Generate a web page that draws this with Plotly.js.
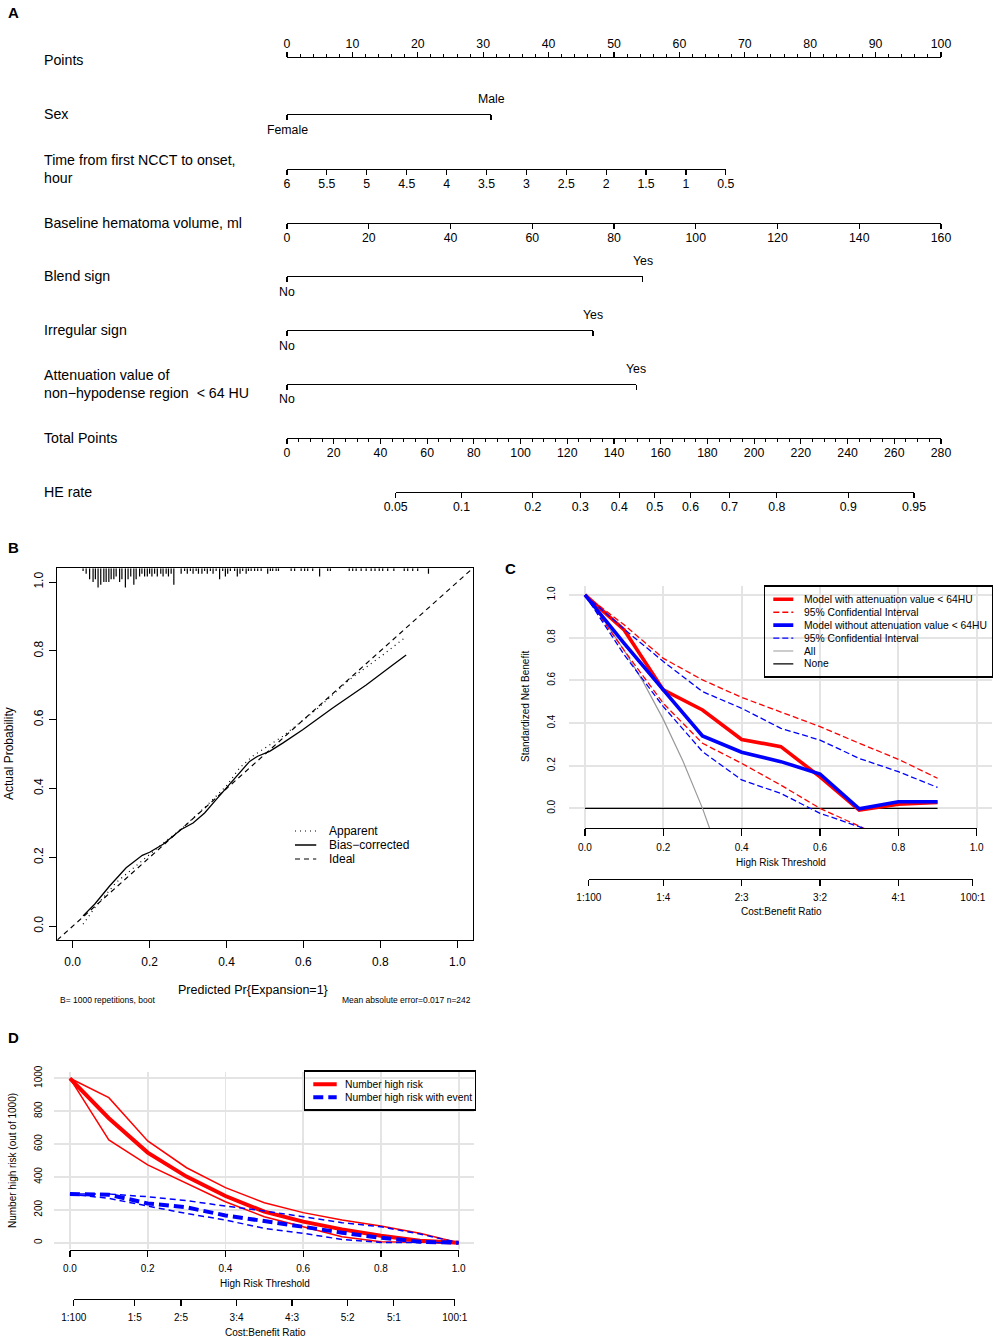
<!DOCTYPE html>
<html><head><meta charset="utf-8">
<script src="https://cdn.plot.ly/plotly-3.0.1.min.js"></script>
<style>html,body{margin:0;padding:0;background:#fff}</style>
</head><body><div id="chart" style="width:996px;height:1339px"></div>
<script>
// ================= DATA =================
// ---- Panel A: nomogram ----
const pointsMax = 100;
const sexLabels = ['Female', 'Male'];
const sexPoints = [0, 31.2];
const timeTicks = [6, 5.5, 5, 4.5, 4, 3.5, 3, 2.5, 2, 1.5, 1, 0.5];
const timeTickText = ['6', '5.5', '5', '4.5', '4', '3.5', '3', '2.5', '2', '1.5', '1', '0.5'];
const timePointsAtShortest = 67.1;          // points for 0.5 h
const volumeTicks = [0, 20, 40, 60, 80, 100, 120, 140, 160];
const volumePointsAtMax = 100;              // points for 160 ml
const blendLabels = ['No', 'Yes'];
const blendPoints = [0, 54.4];
const irregularLabels = ['No', 'Yes'];
const irregularPoints = [0, 46.8];
const attenLabels = ['No', 'Yes'];
const attenPoints = [0, 53.4];
const totalPointsMax = 280;
const heRateTicks = [0.05, 0.1, 0.2, 0.3, 0.4, 0.5, 0.6, 0.7, 0.8, 0.9, 0.95];
const heTotalAtHalf = 157.5;     // total points giving HE rate 0.5
const heTotalPerLogit = 37.68;   // total points per unit log-odds
const rowLabels = ['Points', 'Sex', 'Time from first NCCT to onset,<br>hour', 'Baseline hematoma volume, ml',
  'Blend sign', 'Irregular sign', 'Attenuation value of<br>non\u2212hypodense region  < 64 HU', 'Total Points', 'HE rate'];

// ---- Panel B: calibration ----
const rugProb = [0.027,0.035,0.044,0.053,0.059,0.066,0.073,0.081,0.087,0.094,0.100,0.107,0.113,0.122,0.128,0.137,0.144,0.151,0.159,0.165,
  0.174,0.180,0.187,0.194,0.200,0.206,0.213,0.220,0.229,0.235,0.243,0.249,0.256,0.263,0.282,0.291,0.298,0.306,0.313,0.321,
  0.327,0.336,0.343,0.350,0.358,0.365,0.373,0.382,0.390,0.397,0.403,0.410,0.421,0.428,0.435,0.442,0.451,0.457,0.464,0.473,
  0.481,0.490,0.507,0.514,0.520,0.529,0.535,0.568,0.577,0.594,0.603,0.611,0.624,0.642,0.663,0.670,0.719,0.728,0.737,0.750,
  0.763,0.776,0.786,0.797,0.806,0.819,0.835,0.862,0.871,0.884,0.897,0.925];
const rugCount = [1,2,4,5,4,7,6,5,5,5,4,4,3,5,4,7,4,3,6,4,
  3,2,3,3,2,3,2,3,2,3,2,3,2,6,2,1,2,1,2,1,
  2,2,1,2,1,2,1,4,1,3,2,1,1,3,2,1,2,1,1,1,
  1,1,2,1,1,1,1,1,1,1,1,1,1,3,1,1,1,1,1,1,
  1,1,1,1,1,1,1,1,1,1,1,2];
const apparentX = [0.027,0.061,0.113,0.174,0.226,0.286,0.347,0.399,0.434,0.468,0.546,0.633,0.719,0.806,0.862];
const apparentY = [0.006,0.059,0.127,0.185,0.233,0.286,0.349,0.407,0.460,0.494,0.552,0.629,0.716,0.788,0.837];
const biasX = [0.027,0.057,0.096,0.139,0.181,0.200,0.235,0.282,0.313,0.343,0.373,0.399,0.425,0.460,0.481,0.512,0.546,0.598,0.676,0.763,0.832,0.867];
const biasY = [0.030,0.064,0.117,0.170,0.206,0.215,0.238,0.281,0.300,0.329,0.368,0.402,0.436,0.479,0.494,0.508,0.532,0.571,0.634,0.701,0.759,0.788];
const calibTicks = [0, 0.2, 0.4, 0.6, 0.8, 1.0];
const calibTickText = ['0.0', '0.2', '0.4', '0.6', '0.8', '1.0'];

// ---- Panel C: decision curve ----
const dcaThr = [0, 0.1, 0.2, 0.3, 0.4, 0.5, 0.6, 0.7, 0.8, 0.9];
const withModel = [1.0, 0.836, 0.555, 0.461, 0.323, 0.289, 0.148, -0.008, 0.020, 0.028];
const withUpper = [1.0, 0.86, 0.703, 0.602, 0.520, 0.453, 0.383, 0.305, 0.230, 0.141];
const withLower = [1.0, 0.74, 0.492, 0.305, 0.211, 0.109, 0.0, -0.083, -0.17, -0.25];
const withoutModel = [1.0, 0.773, 0.555, 0.339, 0.263, 0.219, 0.161, -0.002, 0.031, 0.031];
const withoutUpper = [1.0, 0.84, 0.688, 0.547, 0.469, 0.375, 0.320, 0.234, 0.172, 0.098];
const withoutLower = [1.0, 0.72, 0.477, 0.266, 0.133, 0.070, -0.023, -0.086, -0.16, -0.24];
const allThr = [0, 0.05, 0.1, 0.15, 0.2, 0.25, 0.3, 0.35];
const allNB = [1.0, 0.877, 0.741, 0.588, 0.417, 0.222, 0.0, -0.256];
const noneNB = [0, 0, 0, 0, 0, 0, 0, 0, 0, 0];
const cLegendNames = ['Model with attenuation value < 64HU', '95% Confidential Interval',
  'Model without attenuation value < 64HU', '95% Confidential Interval', 'All', 'None'];
const thrTicks = [0, 0.2, 0.4, 0.6, 0.8, 1.0];
const thrTickText = ['0.0', '0.2', '0.4', '0.6', '0.8', '1.0'];
const cCostThr = [0.0099, 0.2, 0.4, 0.6, 0.8, 0.9901];
const cCostLabels = ['1:100', '1:4', '2:3', '3:2', '4:1', '100:1'];

// ---- Panel D: clinical impact ----
const ciThr = [0, 0.1, 0.2, 0.3, 0.4, 0.5, 0.6, 0.7, 0.8, 0.9, 1.0];
const nHighRisk = [1000, 757, 548, 402, 284, 189, 128, 81, 43, 12, 0];
const nHighRiskUpper = [1000, 882, 619, 456, 335, 243, 183, 138, 101, 57, 0];
const nHighRiskLower = [1000, 625, 473, 361, 249, 158, 97, 37, 6, 2, 0];
const nEvent = [296, 292, 239, 215, 166, 134, 97, 61, 30, 6, 0];
const nEventUpper = [296, 296, 280, 256, 223, 193, 158, 122, 97, 53, 0];
const nEventLower = [296, 270, 223, 178, 138, 87, 57, 20, 2, 0, 0];
const dLegendNames = ['Number high risk', 'Number high risk with event'];
const dYTicks = [0, 200, 400, 600, 800, 1000];
const dCostThr = [0.0099, 0.1667, 0.2857, 0.4286, 0.5714, 0.7143, 0.8333, 0.9901];
const dCostLabels = ['1:100', '1:5', '2:5', '3:4', '4:3', '5:2', '5:1', '100:1'];

// ================= LAYOUT HELPERS =================
const W = 996, H = 1339;
const fx = p => p / W, fy = p => 1 - p / H;
const FONT = '"Liberation Sans", Arial, Helvetica, sans-serif';
const data = [];
const layout = {
  width: W, height: H, autosize: false, margin: {l: 0, r: 0, t: 0, b: 0},
  paper_bgcolor: '#fff', plot_bgcolor: 'rgba(0,0,0,0)', showlegend: false,
  font: {family: FONT, color: '#000', size: 12}, annotations: []
};
function ann(text, xpx, ypx, o) {
  o = o || {};
  const font = Object.assign({family: FONT, size: 12, color: '#000'}, o.font || {});
  layout.annotations.push(Object.assign({text: text, x: fx(xpx), y: fy(ypx), xref: 'paper', yref: 'paper',
    showarrow: false, xanchor: 'center', yanchor: 'middle'}, o, {font: font}));
}
const pxOf = (dom, rng, v) => dom[0] + (v - rng[0]) / (rng[1] - rng[0]) * (dom[1] - dom[0]);

let axN = 6;
function addAxis(domPx, range, yPx, opts) {
  axN++;
  const n = axN, side = opts.side || 'bottom';
  const yf = fy(yPx), e = 0.002;
  layout['xaxis' + n] = Object.assign({
    domain: [fx(domPx[0]), fx(domPx[1])], range: range, anchor: 'y' + n, side: side,
    showgrid: false, zeroline: false, showline: true, linecolor: '#000', linewidth: 1.2,
    ticks: 'outside', ticklen: 5, tickwidth: 1.2, tickcolor: '#000', ticklabelstandoff: -2,
    tickfont: {family: FONT, size: 12.3, color: '#000'}, fixedrange: true
  }, opts);
  layout['yaxis' + n] = {domain: side === 'top' ? [yf - e, yf] : [yf, yf + e], range: [0, 1],
    visible: false, anchor: 'x' + n, fixedrange: true};
  data.push({type: 'scatter', x: [range[0]], y: [0.5], xaxis: 'x' + n, yaxis: 'y' + n,
    mode: 'none', hoverinfo: 'skip', showlegend: false});
  return n;
}

// ================= PANEL A =================
const nomoLeft = 287, nomoRight = 941;
const ptPx = (nomoRight - nomoLeft) / pointsMax;
const rowY = [58, 114, 169, 223, 276, 330, 384, 438, 492];
rowLabels.forEach((t, i) => ann(t, 42, rowY[i] + (i === 0 ? 2 : 0), {xanchor: 'left', align: 'left', font: {size: 14.2}}));

// Points
addAxis([nomoLeft, nomoRight], [0, pointsMax], rowY[0], {side: 'top', tickmode: 'linear', tick0: 0, dtick: 10,
  ticklabelstandoff: -1,
  minor: {tickmode: 'linear', tick0: 0, dtick: 2, ticks: 'outside', ticklen: 2.5, tickwidth: 1, tickcolor: '#000'}});

function binaryRow(labels, pts, yPx) {
  const n = addAxis([nomoLeft, nomoLeft + pts[1] * ptPx], [pts[0], pts[1]], yPx,
    {tickmode: 'array', tickvals: pts, showticklabels: false});
  layout.annotations.push({text: labels[0], xref: 'x' + n, x: pts[0], yref: 'paper', y: fy(yPx + 15.5),
    showarrow: false, xanchor: 'center', yanchor: 'middle', font: {family: FONT, size: 12.3, color: '#000'}});
  layout.annotations.push({text: labels[1], xref: 'x' + n, x: pts[1], yref: 'paper', y: fy(yPx - 15),
    showarrow: false, xanchor: 'center', yanchor: 'middle', font: {family: FONT, size: 12.3, color: '#000'}});
}
binaryRow(sexLabels, sexPoints, rowY[1]);
// Time
addAxis([nomoLeft, nomoLeft + timePointsAtShortest * ptPx], [timeTicks[0], timeTicks[timeTicks.length - 1]], rowY[2],
  {tickmode: 'array', tickvals: timeTicks, ticktext: timeTickText});
// Volume
addAxis([nomoLeft, nomoLeft + volumePointsAtMax * ptPx], [volumeTicks[0], volumeTicks[volumeTicks.length - 1]], rowY[3],
  {tickmode: 'array', tickvals: volumeTicks});
binaryRow(blendLabels, blendPoints, rowY[4]);
binaryRow(irregularLabels, irregularPoints, rowY[5]);
binaryRow(attenLabels, attenPoints, rowY[6]);
// Total points
addAxis([nomoLeft, nomoRight], [0, totalPointsMax], rowY[7], {tickmode: 'linear', tick0: 0, dtick: 20,
  minor: {tickmode: 'linear', tick0: 0, dtick: 5, ticks: 'outside', ticklen: 2.5, tickwidth: 1, tickcolor: '#000'}});
// HE rate (logit scale)
const logit = p => Math.log(p / (1 - p));
const totPx = t => nomoLeft + t / totalPointsMax * (nomoRight - nomoLeft);
const heLo = heRateTicks[0], heHi = heRateTicks[heRateTicks.length - 1];
addAxis([totPx(heTotalAtHalf + heTotalPerLogit * logit(heLo)), totPx(heTotalAtHalf + heTotalPerLogit * logit(heHi))],
  [logit(heLo), logit(heHi)], rowY[8],
  {tickmode: 'array', tickvals: heRateTicks.map(logit), ticktext: heRateTicks.map(String)});

// ================= PANEL B =================
const bDomX = [57.3, 472.7], bDomY = [568.3, 940], bRange = [-0.04, 1.04];
const boxAxis = {showline: true, mirror: true, linecolor: '#000', linewidth: 1.1, ticks: 'outside', ticklen: 7,
  tickwidth: 1.1, tickcolor: '#000', showgrid: false, zeroline: false, fixedrange: true,
  tickmode: 'array', tickvals: calibTicks, ticktext: calibTickText, tickfont: {family: FONT, size: 12, color: '#000'}};
layout.xaxis = Object.assign({domain: [fx(bDomX[0]), fx(bDomX[1])], range: bRange, anchor: 'y', ticklabelstandoff: 3}, boxAxis);
layout.yaxis = Object.assign({domain: [fy(bDomY[1]), fy(bDomY[0])], range: bRange, anchor: 'x', tickangle: -90, ticklabelstandoff: 1}, boxAxis);
// rug
const rugUnit = 2.75 / (bDomY[1] - bDomY[0]) * (bRange[1] - bRange[0]);
const rx = [], ry = [];
rugProb.forEach((p, i) => { rx.push(p, p, null); ry.push(bRange[1], bRange[1] - rugCount[i] * rugUnit, null); });
data.push({type: 'scatter', mode: 'lines', x: rx, y: ry, xaxis: 'x', yaxis: 'y', line: {color: '#000', width: 1.2}, hoverinfo: 'skip'});
const bStyles = [
  {name: 'Apparent', line: {color: '#000', width: 1.2, dash: '1px,4px'}},
  {name: 'Bias\u2212corrected', line: {color: '#000', width: 1.3}},
  {name: 'Ideal', line: {color: '#000', width: 1.2, dash: '5px,4px'}}
];
data.push({type: 'scatter', mode: 'lines', x: [bRange[0], bRange[1]], y: [bRange[0], bRange[1]], xaxis: 'x', yaxis: 'y', line: bStyles[2].line, hoverinfo: 'skip'});
data.push({type: 'scatter', mode: 'lines', x: apparentX, y: apparentY, xaxis: 'x', yaxis: 'y', line: bStyles[0].line, hoverinfo: 'skip'});
data.push({type: 'scatter', mode: 'lines', x: biasX, y: biasY, xaxis: 'x', yaxis: 'y', line: bStyles[1].line, hoverinfo: 'skip'});
ann('Predicted Pr{Expansion=1}', 253, 990, {font: {size: 12.5}});
ann('Actual Probability', 9, 754, {textangle: -90, font: {size: 12}});
ann('B= 1000 repetitions, boot', 58, 1000, {xanchor: 'left', font: {size: 8.5}});
ann('Mean absolute error=0.017 n=242', 472.5, 1000, {xanchor: 'right', font: {size: 8.5}});
// B legend (custom)
layout.xaxis6 = {domain: [fx(295), fx(316.5)], range: [0, 1], anchor: 'y6', visible: false, fixedrange: true};
layout.yaxis6 = {domain: [fy(866), fy(824)], range: [2.5, -0.5], anchor: 'x6', visible: false, fixedrange: true};
bStyles.forEach((s, i) => {
  data.push({type: 'scatter', mode: 'lines', x: [0, 1], y: [i, i], xaxis: 'x6', yaxis: 'y6', line: s.line, hoverinfo: 'skip'});
  layout.annotations.push({text: s.name, xref: 'x6', yref: 'y6', x: 1, y: i, xshift: 10, xanchor: 'left', yanchor: 'middle',
    showarrow: false, font: {family: FONT, size: 12, color: '#000'}});
});

// ================= PANEL C =================
const cDomX = [569.3, 992.4], cDomY = [586, 828], cRangeX = [-0.04, 1.04], cRangeY = [-0.092, 1.042];
const gridCol = '#e4e4e4';
layout.xaxis2 = {domain: [fx(cDomX[0]), fx(cDomX[1])], range: cRangeX, anchor: 'y2', tickmode: 'array', tickvals: thrTicks,
  showticklabels: false, ticks: '', showgrid: true, gridcolor: gridCol, gridwidth: 1.8, zeroline: false, showline: false, fixedrange: true};
layout.yaxis2 = {domain: [fy(cDomY[1]), fy(cDomY[0])], range: cRangeY, anchor: 'x2', tickmode: 'array', tickvals: thrTicks,
  ticktext: thrTickText, tickangle: -90, ticks: '', ticklabelstandoff: 11, showgrid: true, gridcolor: gridCol, gridwidth: 1.8,
  zeroline: false, showline: false, fixedrange: true, tickfont: {family: FONT, size: 10, color: '#000'}};
const cStyles = [
  {line: {color: '#ff0000', width: 3.6}},
  {line: {color: '#ff0000', width: 1.3, dash: '6px,3px'}},
  {line: {color: '#0000ff', width: 3.6}},
  {line: {color: '#0000ff', width: 1.3, dash: '6px,3px'}},
  {line: {color: '#999999', width: 1.2}},
  {line: {color: '#000000', width: 1.2}}
];
const cTr = (x, y, s) => data.push({type: 'scatter', mode: 'lines', x: x, y: y, xaxis: 'x2', yaxis: 'y2', line: s.line, hoverinfo: 'skip'});
cTr(dcaThr, noneNB, cStyles[5]);
cTr(allThr, allNB, cStyles[4]);
cTr(dcaThr, withUpper, cStyles[1]);
cTr(dcaThr, withLower, cStyles[1]);
cTr(dcaThr, withModel, cStyles[0]);
cTr(dcaThr, withoutUpper, cStyles[3]);
cTr(dcaThr, withoutLower, cStyles[3]);
cTr(dcaThr, withoutModel, cStyles[2]);
// C threshold and cost axes
addAxis([pxOf(cDomX, cRangeX, 0), pxOf(cDomX, cRangeX, 1)], [0, 1], 828,
  {tickmode: 'array', tickvals: thrTicks, ticktext: thrTickText, ticklen: 7, tickfont: {family: FONT, size: 10, color: '#000'}, ticklabelstandoff: 3});
addAxis([pxOf(cDomX, cRangeX, cCostThr[0]), pxOf(cDomX, cRangeX, cCostThr[cCostThr.length - 1])],
  [cCostThr[0], cCostThr[cCostThr.length - 1]], 878.5,
  {tickmode: 'array', tickvals: cCostThr, ticktext: cCostLabels, ticklen: 6, tickfont: {family: FONT, size: 10, color: '#000'}, ticklabelstandoff: 3});
ann('High Risk Threshold', 781, 862.5, {font: {size: 10}});
ann('Cost:Benefit Ratio', 781, 911.5, {font: {size: 10}});
ann('Standardized Net Benefit', 525, 707, {textangle: -90, font: {size: 10}});
// C legend
const cLegDom = [765, 992], cLegDomY = [586.7, 676.3];
const legAxis = {showline: true, mirror: true, linecolor: '#000', linewidth: 1.3, ticks: '', showticklabels: false,
  showgrid: false, zeroline: false, fixedrange: true};
layout.xaxis4 = Object.assign({domain: [fx(cLegDom[0]), fx(cLegDom[1])], range: [0, cLegDom[1] - cLegDom[0]], anchor: 'y4'}, legAxis);
layout.yaxis4 = Object.assign({domain: [fy(cLegDomY[1]), fy(cLegDomY[0])], range: [cLegDomY[1] - cLegDomY[0], 0], anchor: 'x4'}, legAxis);
cLegendNames.forEach((nm, i) => {
  const yy = 12.6 + 12.93 * i;
  data.push({type: 'scatter', mode: 'lines', x: [8.3, 28.3], y: [yy, yy], xaxis: 'x4', yaxis: 'y4', line: cStyles[i].line, hoverinfo: 'skip'});
  layout.annotations.push({text: nm, xref: 'x4', yref: 'y4', x: 37.2, y: yy, xanchor: 'left', yanchor: 'middle',
    showarrow: false, font: {family: FONT, size: 10.3, color: '#000'}});
});

// ================= PANEL D =================
const dDomX = [54.4, 474.2], dDomY = [1071.7, 1249.3], dRangeX = [-0.04, 1.04], dRangeY = [-40, 1040];
layout.xaxis3 = {domain: [fx(dDomX[0]), fx(dDomX[1])], range: dRangeX, anchor: 'y3', tickmode: 'array', tickvals: thrTicks,
  showticklabels: false, ticks: '', showgrid: true, gridcolor: gridCol, gridwidth: 1.8, zeroline: false, showline: false, fixedrange: true};
layout.yaxis3 = {domain: [fy(dDomY[1]), fy(dDomY[0])], range: dRangeY, anchor: 'x3', tickmode: 'array', tickvals: dYTicks,
  tickangle: -90, ticks: '', ticklabelstandoff: 9, showgrid: true, gridcolor: gridCol, gridwidth: 1.8,
  zeroline: false, showline: false, fixedrange: true, tickfont: {family: FONT, size: 10, color: '#000'}};
const dStyles = [
  {line: {color: '#ff0000', width: 4}},
  {line: {color: '#0000ff', width: 4, dash: '10px,5px'}},
  {line: {color: '#ff0000', width: 1.5}},
  {line: {color: '#0000ff', width: 1.5, dash: '6px,4px'}}
];
const dTr = (y, s) => data.push({type: 'scatter', mode: 'lines', x: ciThr, y: y, xaxis: 'x3', yaxis: 'y3', line: s.line, hoverinfo: 'skip'});
dTr(nHighRiskUpper, dStyles[2]);
dTr(nHighRiskLower, dStyles[2]);
dTr(nHighRisk, dStyles[0]);
dTr(nEventUpper, dStyles[3]);
dTr(nEventLower, dStyles[3]);
dTr(nEvent, dStyles[1]);
addAxis([pxOf(dDomX, dRangeX, 0), pxOf(dDomX, dRangeX, 1)], [0, 1], 1250,
  {tickmode: 'array', tickvals: thrTicks, ticktext: thrTickText, ticklen: 6, tickfont: {family: FONT, size: 10, color: '#000'}, ticklabelstandoff: 3});
addAxis([pxOf(dDomX, dRangeX, dCostThr[0]), pxOf(dDomX, dRangeX, dCostThr[dCostThr.length - 1])],
  [dCostThr[0], dCostThr[dCostThr.length - 1]], 1299,
  {tickmode: 'array', tickvals: dCostThr, ticktext: dCostLabels, ticklen: 6, tickfont: {family: FONT, size: 10, color: '#000'}, ticklabelstandoff: 3});
ann('High Risk Threshold', 265, 1283, {font: {size: 10}});
ann('Cost:Benefit Ratio', 265, 1332, {font: {size: 10}});
ann('Number high risk (out of 1000)', 12, 1161, {textangle: -90, font: {size: 10}});
// D legend
const dLegDom = [305, 475], dLegDomY = [1071.7, 1109.3];
layout.xaxis5 = Object.assign({domain: [fx(dLegDom[0]), fx(dLegDom[1])], range: [0, dLegDom[1] - dLegDom[0]], anchor: 'y5'}, legAxis);
layout.yaxis5 = Object.assign({domain: [fy(dLegDomY[1]), fy(dLegDomY[0])], range: [dLegDomY[1] - dLegDomY[0], 0], anchor: 'x5'}, legAxis);
dLegendNames.forEach((nm, i) => {
  const yy = 12.6 + 13 * i;
  data.push({type: 'scatter', mode: 'lines', x: [8.3, 31.7], y: [yy, yy], xaxis: 'x5', yaxis: 'y5', line: dStyles[i].line, hoverinfo: 'skip'});
  layout.annotations.push({text: nm, xref: 'x5', yref: 'y5', x: 37.8, y: yy, xanchor: 'left', yanchor: 'middle',
    showarrow: false, font: {family: FONT, size: 10.3, color: '#000'}});
});

// ================= PANEL LETTERS =================
ann('<b>A</b>', 13, 13, {font: {size: 15}});
ann('<b>B</b>', 13, 547, {font: {size: 15}});
ann('<b>C</b>', 510, 568, {font: {size: 15}});
ann('<b>D</b>', 13, 1037, {font: {size: 15}});

Plotly.newPlot('chart', data, layout, {displayModeBar: false, staticPlot: true});
</script></body></html>
